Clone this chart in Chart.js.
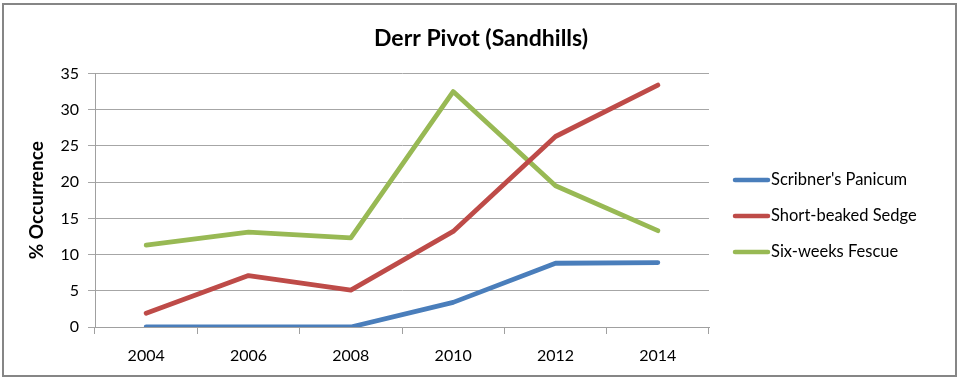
<!DOCTYPE html>
<html>
<head>
<meta charset="utf-8">
<script src="https://cdn.jsdelivr.net/npm/chart.js@4"></script>
<style>
  html, body { margin: 0; padding: 0; background: #ffffff; }
  #wrap { width: 960px; height: 384px; position: relative; }
</style>
</head>
<body>
<div id="wrap"><canvas id="c" width="960" height="384"></canvas></div>
<script>
const years = ['2004', '2006', '2008', '2010', '2012', '2014'];
const scribnersPanicum = [0, 0, 0, 3.4, 8.8, 8.9];
const shortBeakedSedge = [1.9, 7.1, 5.1, 13.2, 26.3, 33.4];
const sixWeeksFescue = [11.3, 13.1, 12.3, 32.5, 19.5, 13.3];
const seriesNames = ["Scribner's Panicum", 'Short-beaked Sedge', 'Six-weeks Fescue'];
const seriesColors = ['#4A7EBB', '#BE4B48', '#98B954'];
const yTicks = [0, 5, 10, 15, 20, 25, 30, 35];
const chartTitle = 'Derr Pivot (Sandhills)';

const FONT = 'Lato, "Open Sans", sans-serif';

const frame = {
  id: 'frame',
  beforeDraw(chart) {
    const ctx = chart.ctx;
    ctx.save();
    ctx.fillStyle = '#ffffff';
    ctx.fillRect(0, 0, chart.width, chart.height);
    ctx.strokeStyle = '#868686';
    ctx.lineWidth = 2;
    ctx.strokeRect(3, 4, 953, 372);
    ctx.restore();
  },
  afterDraw(chart) {
    const ctx = chart.ctx;
    ctx.save();
    ctx.font = 'bold 23px ' + FONT;
    ctx.fillStyle = '#000000';
    ctx.textAlign = 'center';
    ctx.textBaseline = 'middle';
    ctx.fillText(chartTitle, 481, 39);
    ctx.restore();
  }
};

const sideLegend = {
  id: 'sideLegend',
  afterDraw(chart) {
    const ctx = chart.ctx;
    ctx.save();
    ctx.font = '16.5px ' + FONT;
    ctx.textBaseline = 'middle';
    ctx.textAlign = 'left';
    chart.data.datasets.forEach((ds, i) => {
      const y = 180 + i * 36;
      ctx.strokeStyle = ds.borderColor;
      ctx.lineWidth = 4.5;
      ctx.lineCap = 'round';
      ctx.beginPath();
      ctx.moveTo(735, y);
      ctx.lineTo(768, y);
      ctx.stroke();
      ctx.fillStyle = '#000000';
      ctx.fillText(ds.label, 771, y);
    });
    ctx.restore();
  }
};

const datasets = [scribnersPanicum, shortBeakedSedge, sixWeeksFescue].map((vals, i) => ({
  label: seriesNames[i],
  data: vals,
  borderColor: seriesColors[i],
  backgroundColor: seriesColors[i],
  borderWidth: 4.8,
  borderCapStyle: 'round',
  borderJoinStyle: 'round',
  pointRadius: 0,
  tension: 0,
  fill: false
}));

new Chart(document.getElementById('c'), {
  type: 'line',
  data: { labels: years, datasets },
  plugins: [frame, sideLegend],
  options: {
    responsive: false,
    animation: false,
    devicePixelRatio: 1,
    layout: { padding: { left: 0, right: 251, top: 73.5, bottom: 0 } },
    plugins: {
      legend: { display: false },
      tooltip: { enabled: false },
      title: { display: false }
    },
    scales: {
      x: {
        type: 'category',
        offset: true,
        afterFit(scale) { scale.height = 57; },
        grid: {
          display: true,
          drawOnChartArea: false,
          drawTicks: true,
          offset: true,
          tickLength: 7,
          color: '#a0a0a0',
          lineWidth: 1
        },
        border: { display: true, color: '#a0a0a0', width: 1 },
        ticks: {
          color: '#000000',
          font: { family: FONT, size: 16 },
          padding: 12,
          maxRotation: 0
        }
      },
      y: {
        min: 0,
        max: 35,
        afterFit(scale) { scale.width = 95; },
        afterBuildTicks(scale) { scale.ticks = yTicks.map(v => ({ value: v })); },
        grid: {
          color: '#a6a6a6',
          lineWidth: 1,
          drawTicks: true,
          tickLength: 7
        },
        border: { display: true, color: '#a0a0a0', width: 1 },
        ticks: {
          color: '#000000',
          font: { family: FONT, size: 16 },
          padding: 9
        },
        title: {
          display: true,
          text: '% Occurrence',
          color: '#000000',
          font: { family: FONT, size: 19, weight: 'bold' },
          padding: { top: 25, bottom: 0 }
        }
      }
    }
  }
});
</script>
</body>
</html>
